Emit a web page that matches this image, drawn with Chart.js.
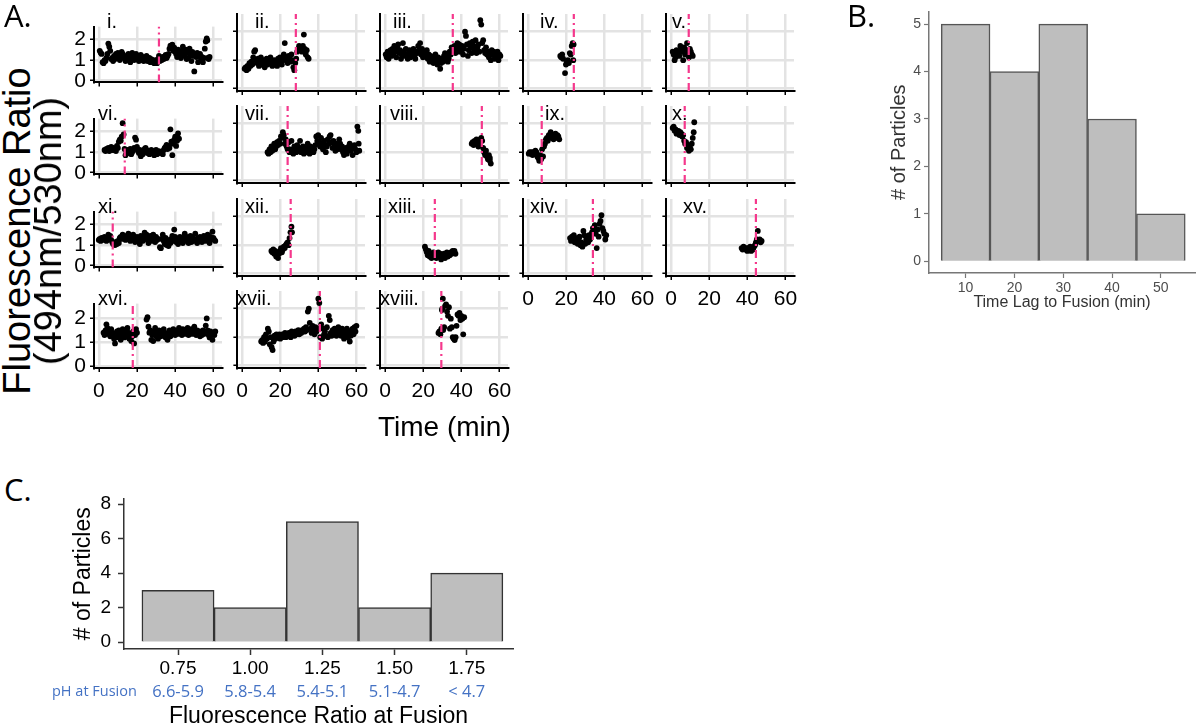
<!DOCTYPE html>
<html>
<head>
<meta charset="utf-8">
<script src="https://cdn.jsdelivr.net/npm/chart.js@4.4.0/dist/chart.umd.min.js"></script>
<style>
  body { margin: 0; background: #fff; }
  #stage { position: relative; width: 1200px; height: 728px; overflow: hidden; font-family: 'Liberation Sans', Arial, sans-serif; }
  #stage canvas { position: absolute; }
  .txt { position: absolute; white-space: nowrap; line-height: 1; color: #000; }
</style>
</head>
<body>
<div id="stage"></div>
<script>
// ---- data -------------------------------------------------------------
const panelNames = ['i.', 'ii.', 'iii.', 'iv.', 'v.', 'vi.', 'vii.', 'viii.', 'ix.', 'x.',
                    'xi.', 'xii.', 'xiii.', 'xiv.', 'xv.', 'xvi.', 'xvii.', 'xviii.'];
const fusionTimes = [31.5, 28.3, 35.6, 24.1, 9.4, 13.6, 24, 50.8, 7.3, 7.3,
                     7.3, 25.6, 26.2, 34, 44.5, 17.8, 40.8, 29.5];
const timeTicks = [0, 20, 40, 60];
const ratioTicks = [0, 1, 2];

// [time (min), fluorescence ratio]
const trace_i = [[0.5,1.45],[1,1.35],[1.5,1.3],[2,0.9],[2.5,0.85],[3,1.0],[3.5,0.95],[4,1.1],[4.5,1.3],[5,1.8],[5.5,1.65],[6,1.45],[6.5,1.05],[7,1.1],[7.5,0.95],[8,1.2],[8.5,1.05],[9,1.3],[9.5,1.1],[10,1.35],[10.5,1.25],[11,1.0],[11.5,1.15],[12,1.4],[12.5,1.3],[13,1.1],[13.5,1.2],[14,0.95],[14.5,1.15],[15,1.05],[15.5,1.3],[16,1.2],[16.5,0.9],[17,1.1],[17.5,1.35],[18,1.25],[18.5,1.0],[19,1.15],[19.5,1.3],[20,1.05],[20.5,1.2],[21,0.95],[21.5,1.1],[22,1.25],[22.5,1.0],[23,1.15],[23.5,0.95],[24,1.1],[24.5,1.05],[25,1.2],[25.5,0.95],[26,1.0],[26.5,1.1],[27,0.9],[27.5,1.05],[28,0.95],[28.5,1.0],[29,0.85],[29.5,0.9],[30,1.0],[30.5,0.85],[31,1.05],[31.5,1.2],[32,0.95],[32.5,1.1],[33,1.0],[33.5,1.15],[34,1.05],[35,1.25],[35.5,1.1],[36,1.2],[36.5,1.3],[37,1.55],[37.5,1.7],[38,1.65],[38.5,1.75],[39,1.45],[39.5,1.6],[40,1.4],[40.5,1.3],[41,1.15],[41.5,1.5],[42,1.2],[42.5,1.35],[43,1.1],[43.5,1.45],[44,1.65],[44.5,1.3],[45,1.2],[45.5,1.5],[46,1.05],[46.5,1.35],[47,1.1],[47.5,1.55],[48,1.25],[48.5,0.95],[49,1.4],[49.5,1.2],[50,0.45],[50.5,1.3],[51,1.15],[51.5,1.35],[52,0.9],[52.5,1.2],[53,1.3],[53.5,1.05],[54,1.15],[54.5,0.9],[55,1.1],[55.5,1.55],[56,1.9],[56.5,2.05],[56.8,1.95],[57,1.1],[57.5,1.05],[58,1.15]];
const trace_ii = [[1.5,0.7],[2,0.75],[2.5,0.65],[3,0.8],[3.5,0.7],[4,0.9],[4.5,0.8],[5,0.95],[5.5,0.85],[6,1.1],[6.5,1.3],[7,1.35],[7.5,1.0],[8,0.9],[8.5,1.05],[9,0.8],[9.5,0.95],[10,1.1],[10.5,0.85],[11,1.0],[11.5,0.9],[12,0.75],[12.5,0.95],[13,1.05],[13.5,0.85],[14,1.0],[14.5,0.9],[15,1.1],[15.5,0.95],[16,0.8],[16.5,0.9],[17,1.0],[17.5,0.85],[18,0.95],[18.5,0.8],[19,1.05],[19.5,0.9],[20,1.1],[20.5,0.95],[21,0.85],[21.5,1.05],[22,1.2],[22.5,1.6],[23,1.0],[23.5,1.1],[24,0.9],[24.5,1.15],[25,1.05],[25.5,0.95],[26,1.2],[26.5,1.0],[27,0.75],[27.5,0.65],[28,0.9],[28.5,1.05],[29,1.3],[29.5,1.4],[30,1.5],[30.5,1.35],[31,1.45],[31.5,1.3],[32,1.5],[32.5,1.9],[33,1.4],[33.5,1.2],[34,1.35],[34.5,1.1],[35,1.05]];
const trace_iii = [[0.5,1.2],[1,1.1],[1.5,1.3],[2,1.05],[2.5,1.25],[3,1.35],[3.5,1.15],[4,1.4],[4.5,1.2],[5,1.5],[5.5,1.3],[6,1.1],[6.5,1.45],[7,1.55],[7.5,1.25],[8,1.35],[8.5,1.05],[9,1.2],[9.5,1.6],[10,1.3],[10.5,1.15],[11,1.4],[11.5,1.2],[12,1.05],[12.5,1.25],[13,1.35],[13.5,1.1],[14,1.3],[14.5,1.2],[15,1.4],[15.5,1.15],[16,1.05],[16.5,1.3],[17,1.25],[17.5,1.5],[18,1.35],[18.5,1.6],[19,1.2],[19.5,1.4],[20,1.1],[20.5,1.3],[21,1.25],[21.5,1.15],[22,1.35],[22.5,1.05],[23,1.2],[23.5,0.95],[24,1.15],[24.5,1.0],[25,1.1],[25.5,0.9],[26,1.05],[26.5,1.2],[27,0.95],[27.5,0.85],[28,1.1],[28.5,1.0],[29,0.7],[29.5,0.9],[30,1.05],[30.5,0.95],[31,1.15],[31.5,1.25],[32,1.05],[32.5,1.2],[33,0.95],[33.5,1.05],[34,1.3],[34.5,1.2],[35,1.45],[36,1.35],[36.5,1.5],[37,1.25],[37.5,1.4],[38,1.6],[38.5,1.3],[39,1.55],[39.5,1.45],[40,1.3],[40.5,1.5],[41,1.2],[41.5,1.4],[42,2.0],[42.5,1.85],[43,1.55],[43.5,1.15],[44,1.35],[44.5,1.6],[45,1.45],[45.5,1.25],[46,1.65],[46.5,1.5],[47,1.35],[47.5,1.7],[48,1.25],[48.5,1.45],[49,1.55],[49.5,1.3],[50,2.4],[50.5,2.25],[51,1.6],[51.5,1.7],[52,1.35],[52.5,1.25],[53,1.45],[53.5,1.2],[54,1.3],[54.5,1.1],[55,1.25],[55.5,1.0],[56,1.35],[56.5,1.2],[57,1.3],[57.5,1.05],[58,1.25],[58.5,1.15],[59,1.3],[59.5,1.0],[60,1.2],[60.5,1.15]];
const trace_iv = [[17,1.15],[17.5,1.1],[18,1.2],[18.5,1.05],[19.5,0.55],[20,0.85],[20.5,0.95],[21,1.0],[21.5,0.9],[22,1.25],[22.5,1.2],[23,1.5],[23.5,1.6],[24,1.55],[23.8,1.0]];
const trace_v = [[1,1.3],[1.5,1.2],[2,1.0],[2.5,1.1],[3,1.35],[3.5,1.2],[4,1.25],[4.5,1.15],[5,1.5],[5.5,1.4],[6,1.3],[6.5,1.0],[7,1.45],[7.5,1.2],[8,1.35],[8.5,1.6],[9,1.25],[9.5,1.1],[10,1.4],[10.5,1.3],[11,1.2],[11.5,1.15]];
const trace_vi = [[3,1.1],[3.5,1.05],[4,1.15],[4.5,1.1],[5,1.2],[5.5,1.05],[6,1.15],[6.5,1.25],[7,1.1],[7.5,1.2],[8,1.1],[8.5,1.15],[9,1.05],[9.5,1.3],[10,1.2],[10.5,1.5],[11,1.6],[11.5,1.55],[12,1.75],[12.5,2.4],[13,1.85],[13.5,1.15],[14,0.85],[14.5,1.0],[15,1.1],[15.5,0.95],[16,1.05],[16.5,1.15],[17,0.9],[17.5,1.0],[18,1.1],[18.5,1.2],[19,1.7],[19.5,1.6],[20,1.25],[20.5,1.05],[21,0.95],[21.5,1.1],[22,0.8],[22.5,1.0],[23,0.9],[23.5,1.05],[24,1.15],[24.5,1.2],[25,1.1],[25.5,0.95],[26,1.05],[26.5,0.9],[27,1.0],[27.5,1.1],[28,0.95],[28.5,1.05],[29,0.85],[29.5,1.0],[30,1.1],[30.5,0.9],[31,1.0],[31.5,1.05],[32,0.95],[33,1.0],[33.5,0.9],[34,1.1],[34.5,1.2],[35,1.25],[35.5,1.35],[36,1.15],[36.5,1.3],[37,1.2],[37.5,2.1],[38,1.5],[38.5,0.85],[39,1.4],[39.5,1.6],[40,1.75],[40.5,1.3],[41,1.55],[41.5,1.9],[42,1.65]];
const trace_vii = [[13.5,1.0],[14,0.95],[14.5,1.1],[15,1.0],[15.5,1.2],[16,1.05],[16.5,1.15],[17,1.3],[17.5,1.1],[18,1.2],[18.5,1.35],[19,1.25],[19.5,1.4],[20,1.3],[20.5,1.55],[21,1.5],[21.5,1.7],[22,1.6],[22.5,1.3],[23,1.45],[23.5,1.2],[24,1.1],[24.5,1.35],[25,1.0],[25.5,1.1],[26,1.4],[26.5,1.05],[27,0.95],[27.5,1.2],[28,1.1],[28.5,1.0],[29,1.25],[29.5,1.05],[30,1.15],[30.5,1.4],[31,1.0],[31.5,1.1],[32,1.2],[32.5,0.95],[33,1.05],[33.5,1.15],[34,1.0],[34.5,1.3],[35,1.1],[35.5,0.95],[36,1.2],[36.5,1.05],[37,1.15],[37.5,1.0],[38,1.1],[38.5,1.25],[39,1.55],[39.5,1.4],[40,1.6],[40.5,1.35],[41,1.2],[41.5,1.5],[42,1.3],[42.5,1.1],[43,1.4],[43.5,1.25],[44,1.0],[44.5,1.2],[45,1.45],[45.5,1.3],[46,1.55],[46.5,1.6],[47,1.35],[47.5,1.15],[48,1.4],[48.5,1.2],[49,1.05],[49.5,1.3],[50,1.1],[50.5,1.25],[51,1.45],[51.5,1.3],[52,1.1],[52.5,1.2],[53,1.0],[53.5,0.9],[54,1.05],[54.5,1.15],[55,0.95],[55.5,1.1],[56,1.2],[56.5,1.3],[57,1.05],[57.5,1.2],[58,0.9],[58.5,1.15],[59,1.25],[59.5,1.1],[60,1.0],[60.5,1.9],[61,1.75],[61.2,1.3],[61.5,1.05]];
const trace_viii = [[45.5,1.3],[46,1.35],[46.5,1.25],[47,1.4],[47.5,1.3],[48,1.45],[48.5,1.35],[49,1.2],[49.5,1.3],[50,1.45],[50.5,1.5],[51,1.4],[51.5,1.15],[52,1.0],[52.5,0.9],[53,1.05],[53.5,0.85],[54,0.75],[54.5,0.9],[55,0.7],[55.5,0.6],[55,0.8]];
const trace_ix = [[0.5,0.95],[1,1.0],[1.5,0.95],[2,1.0],[2.5,0.9],[3,1.0],[3.5,0.95],[4,1.05],[4.5,1.0],[5,0.85],[5.5,0.8],[6,0.7],[6.5,0.9],[7,0.75],[7.5,1.1],[8,0.85],[8.5,1.2],[9,1.3],[9.5,1.45],[10,1.5],[10.5,1.4],[11,1.6],[11.5,1.55],[12,1.7],[12.5,1.5],[13,1.6],[13.5,1.45],[14,1.55],[14.5,1.65],[15,1.5],[15.5,1.6],[16,1.55],[16.5,1.45]];
const trace_x = [[1,1.85],[1.5,1.9],[2,1.75],[2.5,1.8],[3,1.65],[3.5,1.7],[4,1.75],[4.5,1.6],[5,1.7],[5.5,1.65],[6,1.55],[6.5,1.6],[7,1.4],[7.5,1.3],[8,1.35],[8.5,1.15],[9,1.25],[9.5,1.05],[10,1.2],[10.5,1.1],[11,1.3],[11.5,1.5],[12,1.7],[12.3,2.05]];
const trace_xi = [[0,1.25],[0.5,1.3],[1,1.2],[1.5,1.35],[2,1.25],[2.5,1.3],[3,1.4],[3.5,1.3],[4,1.2],[4.5,1.35],[5,1.5],[5.5,1.3],[6,1.45],[6.5,1.25],[7,1.15],[7.5,1.05],[8,1.1],[8.5,1.0],[9,1.15],[9.5,1.05],[10,1.2],[10.5,1.1],[11,1.35],[11.5,1.4],[12,1.3],[12.5,1.5],[13,1.35],[13.5,1.45],[14,1.25],[14.5,1.4],[15,1.3],[15.5,1.55],[16,1.35],[16.5,1.2],[17,1.45],[17.5,1.3],[18,1.5],[18.5,1.25],[19,1.15],[19.5,1.35],[20,1.4],[20.5,1.2],[21,1.3],[21.5,1.05],[22,1.45],[22.5,1.3],[23,1.2],[23.5,1.4],[24,1.6],[24.5,1.35],[25,1.5],[25.5,1.25],[26,1.1],[26.5,1.3],[27,1.45],[27.5,1.2],[28,1.35],[28.5,1.5],[29,1.3],[29.5,1.15],[30,1.4],[30.5,1.25],[31,1.3],[32,0.9],[32.5,0.85],[33,1.3],[33.5,1.5],[34,1.2],[34.5,1.05],[35,1.35],[35.5,1.0],[36,1.15],[36.5,0.95],[37,1.25],[37.5,1.1],[38,1.3],[38.5,1.45],[39,1.2],[39.5,1.75],[40,1.4],[40.5,1.15],[41,1.3],[41.5,1.05],[42,1.25],[42.5,1.4],[43,1.2],[43.5,1.35],[44,1.1],[44.5,1.3],[45,1.55],[45.5,1.2],[46,1.4],[46.5,1.3],[47,1.1],[47.5,1.25],[48,1.45],[48.5,1.15],[49,1.35],[49.5,1.2],[50,1.3],[50.5,1.55],[51,1.25],[51.5,1.1],[52,1.35],[52.5,1.2],[53,1.4],[53.5,1.3],[54,1.15],[54.5,1.25],[55,1.45],[55.5,1.3],[56,1.2],[56.5,1.35],[57,1.5],[57.5,1.25],[58,1.1],[58.5,1.4],[59,1.3],[59.5,1.65],[60,1.35],[60.5,1.25],[61,1.2]];
const trace_xii = [[15.5,0.8],[16,0.75],[16.5,0.85],[17,0.7],[17.5,0.8],[18,0.6],[18.5,0.75],[19,0.55],[19.5,0.7],[20,0.8],[20.5,0.9],[21,0.75],[21.5,0.85],[22,0.95],[22.5,0.9],[23,1.0],[23.5,1.05],[24,1.1],[24.5,1.0],[25,1.25],[25.5,1.45],[26,1.65],[26.3,1.45]];
const trace_xiii = [[21,0.95],[21.5,0.85],[22,0.75],[22.5,0.65],[23,0.8],[23.5,0.6],[24,0.7],[24.5,0.55],[25,0.65],[25.5,0.75],[26,0.6],[26.5,0.7],[27,0.55],[27.5,0.65],[28,0.75],[28.5,0.6],[29,0.7],[29.5,0.5],[30,0.65],[30.5,0.6],[31,0.7],[31.5,0.55],[32,0.65],[32.5,0.75],[33,0.6],[33.5,0.7],[34,0.65],[34.5,0.75],[35,0.7],[35.5,0.8],[36,0.75],[36.5,0.8],[37,0.7]];
const trace_xiv = [[22,1.25],[22.5,1.15],[23,1.3],[23.5,1.2],[24,1.35],[24.5,1.1],[25,1.25],[25.5,1.15],[26,1.05],[26.5,1.2],[27,1.3],[27.5,1.0],[28,1.1],[28.5,0.95],[29,1.5],[29.5,1.35],[30,1.05],[30.5,1.2],[31,1.25],[31.5,1.1],[32,1.35],[32.5,1.2],[33,1.3],[33.5,1.45],[34,1.6],[34.5,1.5],[35,1.7],[35.5,1.4],[36,0.9],[36.5,1.55],[37,1.3],[37.5,1.75],[38,1.85],[38.5,2.05],[39,1.6],[39.5,1.5],[40,1.4],[40.5,1.2],[41,1.35]];
const trace_xv = [[37,0.9],[37.5,0.85],[38,0.95],[38.5,0.9],[39,0.85],[39.5,0.9],[40,0.8],[40.5,0.9],[41,0.85],[41.5,0.95],[42,0.8],[42.5,0.9],[43,0.85],[43.5,0.95],[44,1.0],[44.5,1.1],[45,1.2],[45.5,1.5],[46,1.15],[46.5,1.2],[47,1.1],[47.5,1.15]];
const trace_xvi = [[2.5,1.4],[3,1.3],[3.5,1.5],[4,1.75],[4.5,1.6],[5,1.35],[5.5,1.45],[6,1.25],[6.5,1.55],[7,1.4],[7.5,1.3],[8,1.15],[8.5,0.95],[9,1.2],[9.5,1.45],[10,1.3],[10.5,1.5],[11,1.25],[11.5,1.1],[12,1.4],[12.5,1.55],[13,1.35],[13.5,1.2],[14,1.45],[14.5,1.3],[15,1.6],[15.5,1.4],[16,1.15],[16.5,1.35],[17,1.05],[17.5,1.25],[18,1.45],[18.5,0.95],[19,1.3],[19.5,1.55],[20,1.4],[25,1.95],[25.5,2.05],[26,1.65],[26.5,1.4],[27,1.5],[27.5,1.1],[28,1.3],[28.5,1.05],[29,1.45],[29.5,1.6],[30,1.25],[30.5,1.4],[31,1.15],[31.5,1.5],[32,1.35],[32.5,1.25],[33,1.45],[33.5,1.3],[34,1.55],[34.5,1.4],[35,1.2],[35.5,1.35],[36,1.1],[36.5,1.3],[37,1.5],[37.5,1.25],[38,1.4],[38.5,1.35],[39,1.55],[39.5,1.45],[40,1.3],[40.5,1.4],[41,1.5],[41.5,1.35],[42,1.6],[42.5,1.4],[43,1.45],[43.5,1.3],[44,1.55],[44.5,1.4],[45,1.5],[45.5,1.35],[46,1.45],[46.5,1.6],[47,1.3],[47.5,1.5],[48,1.4],[48.5,1.55],[49,1.35],[49.5,1.45],[50,1.65],[50.5,1.4],[51,1.3],[51.5,1.5],[52,1.35],[52.5,1.45],[53,1.25],[53.5,1.4],[54,1.3],[54.5,1.5],[55,1.35],[55.5,1.45],[56,1.7],[56.5,2.0],[57,1.5],[57.5,1.3],[58,1.2],[58.5,1.45],[59,1.35],[59.5,1.1],[60,1.4],[60.5,1.3],[61,1.45]];
const trace_xvii = [[10,0.85],[10.5,0.9],[11,0.8],[11.5,1.0],[12,0.85],[12.5,1.1],[13,0.95],[13.5,1.3],[14,1.2],[14.5,0.75],[15,1.0],[15.5,0.65],[16,0.55],[16.5,0.85],[17,1.05],[17.5,0.95],[18,1.1],[18.5,1.0],[19,1.05],[19.5,1.1],[20,0.95],[20.5,1.05],[21,1.1],[21.5,1.0],[22,1.05],[22.5,1.15],[23,1.0],[23.5,1.1],[24,1.05],[24.5,1.15],[25,1.1],[25.5,1.0],[26,1.2],[26.5,1.1],[27,1.15],[27.5,1.05],[28,1.2],[28.5,1.1],[29,1.15],[29.5,1.25],[30,1.1],[30.5,1.2],[31,1.15],[31.5,1.25],[32,1.2],[32.5,1.3],[33,1.2],[33.5,1.35],[34,1.25],[34.5,1.9],[35,2.0],[35.5,1.5],[36,1.3],[36.5,1.15],[37,1.4],[37.5,1.25],[38,1.1],[38.5,1.35],[39,1.2],[39.5,1.3],[40,2.35],[40.5,2.2],[41,1.0],[41.5,1.45],[42,0.95],[42.5,1.3],[43,1.1],[43.5,1.2],[44,1.05],[44.5,1.35],[45,1.0],[45.5,1.75],[46,1.6],[46.5,1.15],[47,1.05],[47.5,1.25],[48,1.1],[48.5,1.3],[49,1.15],[49.5,1.05],[50,1.2],[50.5,1.35],[51,1.1],[51.5,1.25],[52,1.05],[52.5,1.3],[53,1.15],[53.5,0.95],[54,1.2],[54.5,1.1],[55,1.3],[55.5,1.0],[56,1.15],[56.5,0.85],[57,1.05],[57.5,1.25],[58,1.3],[58.5,1.1],[59,1.35],[59.5,1.2],[60,1.4]];
const trace_xviii = [[28,1.15],[28.5,1.2],[29,1.1],[29.5,1.3],[29.8,1.95],[30,2.0],[30.3,2.35],[30.5,1.25],[31,1.35],[31.5,2.1],[32,2.15],[32.5,1.9],[33,1.75],[33.5,2.05],[34,1.3],[34.5,1.65],[35,1.35],[35.5,1.0],[36,0.95],[36.5,0.9],[37,1.0],[37.5,1.4],[38,1.8],[38.5,1.75],[39,1.85],[39.5,1.6],[40,1.75],[40.5,1.65],[41,1.1],[41.5,1.7]];
const traces = [trace_i, trace_ii, trace_iii, trace_iv, trace_v, trace_vi, trace_vii, trace_viii, trace_ix, trace_x,
                trace_xi, trace_xii, trace_xiii, trace_xiv, trace_xv, trace_xvi, trace_xvii, trace_xviii];

// histogram B
const lagBins = [10, 20, 30, 40, 50];
const lagCounts = [5, 4, 5, 3, 1];
// histogram C
const ratioBins = [0.75, 1.00, 1.25, 1.50, 1.75];
const ratioCounts = [3, 2, 7, 2, 4];
const phLabels = ['6.6-5.9', '5.8-5.4', '5.4-5.1', '5.1-4.7', '< 4.7'];

// ---- layout of the small multiples -------------------------------------
const COL_X0 = [99, 242, 385, 528, 671];   // pixel where t = 0
const ROW_Y0 = [89, 181, 274, 366];        // pixel where ratio = 0
const PX_MIN = 1.91, PX_UNIT = 28.5;
const X_MIN = -2.5, X_MAX = 64.5, Y_MIN = -0.08, Y_MAX = 2.62;
const labelDx = [13, 18, 13, 17, 6, 4, 8, 10, 22, 6, 4, 8, 8, 7, 17, 4, 0, 0];

const PINK = '#f5388c';
const GRID = '#e3e3e3';

Chart.defaults.font.family = "'Liberation Sans', Arial, sans-serif";
Chart.defaults.color = '#000';
Chart.defaults.animation = false;

const stage = document.getElementById('stage');

function addText(text, x, y, css) {
  const d = document.createElement('div');
  d.className = 'txt';
  d.textContent = text;
  d.style.left = x + 'px';
  d.style.top = y + 'px';
  Object.assign(d.style, css || {});
  stage.appendChild(d);
  return d;
}

function addCanvas(left, top, w, h) {
  const c = document.createElement('canvas');
  c.width = w; c.height = h;
  c.style.left = left + 'px'; c.style.top = top + 'px';
  c.style.width = w + 'px'; c.style.height = h + 'px';
  stage.appendChild(c);
  return c;
}

function addPanel(k) {
  const col = k % 5, row = Math.floor(k / 5);
  const plotL = Math.round(COL_X0[col] + X_MIN * PX_MIN);
  const plotT = Math.round(ROW_Y0[row] - Y_MAX * PX_UNIT);
  const plotW = Math.round((X_MAX - X_MIN) * PX_MIN);
  const plotH = Math.round((Y_MAX - Y_MIN) * PX_UNIT);
  const showY = col === 0;
  const showX = row === 3 || (row === 2 && col >= 3);
  const padL = showY ? 40 : 8, padB = showX ? 40 : 8, padT = 4, padR = 14;

  const canvas = addCanvas(plotL - padL, plotT - padT, padL + plotW + padR, padT + plotH + padB);
  const ft = fusionTimes[k];

  new Chart(canvas, {
    type: 'scatter',
    data: {
      datasets: [{
        type: 'line',
        data: [{ x: ft, y: Y_MIN }, { x: ft, y: Y_MAX }],
        borderColor: PINK,
        borderWidth: 2.2,
        borderDash: [8, 4, 2, 4],
        pointRadius: 0,
        order: 0
      }, {
        data: traces[k].map(([x, y]) => ({ x, y })),
        backgroundColor: '#000',
        borderWidth: 0,
        pointRadius: 2.9,
        order: 1
      }]
    },
    options: {
      responsive: false,
      layout: { padding: { top: padT, right: padR, left: 0, bottom: 0 } },
      plugins: { legend: { display: false }, tooltip: { enabled: false } },
      scales: {
        x: {
          type: 'linear', min: X_MIN, max: X_MAX,
          afterBuildTicks: s => { s.ticks = timeTicks.map(v => ({ value: v })); },
          afterFit: s => { s.height = padB; },
          grid: { color: GRID, lineWidth: 2.5, tickColor: '#000', tickWidth: 1.5, tickLength: 4 },
          border: { color: '#000', width: 2 },
          ticks: { display: showX, autoSkip: false, maxRotation: 0, padding: 7, font: { size: 21 }, color: '#000' }
        },
        y: {
          type: 'linear', min: Y_MIN, max: Y_MAX,
          afterBuildTicks: s => { s.ticks = ratioTicks.map(v => ({ value: v })); },
          afterFit: s => { s.width = padL; },
          grid: { color: GRID, lineWidth: 2.5, tickColor: '#000', tickWidth: 1.5, tickLength: 4 },
          border: { color: '#000', width: 2 },
          ticks: { display: showY, padding: 4, font: { size: 21 }, color: '#000' }
        }
      }
    }
  });

  addText(panelNames[k], plotL + labelDx[k], plotT - 3, { fontSize: '20px' });
}

traces.forEach((_, k) => addPanel(k));

// titles of panel A
addText('A.', 4, 0, { fontSize: '31px', fontFamily: "'Open Sans', sans-serif" });
addText('Time (min)', 378, 413, { fontSize: '28px' });
addText('Fluorescence Ratio', 17, 231, { fontSize: '38px', transform: 'translate(-50%, -50%) rotate(-90deg)' });
addText('(494nm/530nm)', 48, 231, { fontSize: '38px', transform: 'translate(-50%, -50%) rotate(-90deg)' });

// ---- histogram B ------------------------------------------------------------
addText('B.', 847, 0, { fontSize: '31px', fontFamily: "'Open Sans', sans-serif" });
{
  const left = 876, top = 0, w = 324, h = 330;
  const canvas = addCanvas(left, top, w, h);
  new Chart(canvas, {
    type: 'bar',
    data: {
      datasets: [{
        data: lagBins.map((b, i) => ({ x: b, y: lagCounts[i] })),
        backgroundColor: '#bebebe',
        borderColor: '#555',
        borderWidth: 1.5,
        barPercentage: 1,
        categoryPercentage: 1
      }]
    },
    options: {
      responsive: false,
      layout: { padding: { top: 5, right: 5, left: 0, bottom: 0 } },
      plugins: { legend: { display: false }, tooltip: { enabled: false } },
      scales: {
        x: {
          type: 'linear', min: 2.5, max: 57, offset: false,
          afterBuildTicks: s => { s.ticks = lagBins.map(v => ({ value: v })); },
          afterFit: s => { s.height = 57; },
          grid: { display: true, offset: false, drawOnChartArea: false, tickColor: '#777', tickLength: 5, tickWidth: 1.2 },
          border: { color: '#777', width: 1.5 },
          ticks: { padding: 2, font: { size: 14 }, color: '#4d4d4d' },
          title: { display: true, text: 'Time Lag to Fusion (min)', color: '#333', font: { size: 16, lineHeight: 1 }, padding: { top: 0, bottom: 19 } }
        },
        y: {
          type: 'linear', min: -0.25, max: 5.27,
          afterBuildTicks: s => { s.ticks = [0, 1, 2, 3, 4, 5].map(v => ({ value: v })); },
          afterFit: s => { s.width = 53; },
          grid: { display: true, drawOnChartArea: false, tickColor: '#777', tickLength: 5, tickWidth: 1.2 },
          border: { color: '#777', width: 1.5 },
          ticks: { padding: 3, font: { size: 14 }, color: '#4d4d4d' },
          title: { display: true, text: '# of Particles', color: '#333', font: { size: 20, lineHeight: 1 }, padding: { top: 13, bottom: 0 } }
        }
      }
    }
  });
}

// ---- histogram C ------------------------------------------------------------
addText('C.', 4, 474, { fontSize: '31px', fontFamily: "'Open Sans', sans-serif" });
const phRow = {
  id: 'phRow',
  afterDraw(chart) {
    const ctx = chart.ctx, xs = chart.scales.x;
    const y = chart.chartArea.bottom + 43;
    ctx.save();
    ctx.fillStyle = '#4472c4';
    ctx.font = "16.5px 'Open Sans', sans-serif";
    ctx.textBaseline = 'middle';
    ctx.textAlign = 'center';
    ratioBins.forEach((b, i) => ctx.fillText(phLabels[i], xs.getPixelForValue(b), y));
    ctx.textAlign = 'left';
    ctx.font = "14.5px 'Open Sans', sans-serif";
    ctx.fillText('pH at Fusion', 12, y);
    ctx.restore();
  }
};
{
  const left = 40, top = 480, w = 480, h = 248;
  const canvas = addCanvas(left, top, w, h);
  new Chart(canvas, {
    type: 'bar',
    data: {
      datasets: [{
        data: ratioBins.map((b, i) => ({ x: b, y: ratioCounts[i] })),
        backgroundColor: '#bebebe',
        borderColor: '#333',
        borderWidth: 1.5,
        barPercentage: 1,
        categoryPercentage: 1
      }]
    },
    plugins: [phRow],
    options: {
      responsive: false,
      layout: { padding: { top: 15, right: 7, left: 0, bottom: 0 } },
      plugins: { legend: { display: false }, tooltip: { enabled: false } },
      scales: {
        x: {
          type: 'linear', min: 0.563, max: 1.91, offset: false,
          afterBuildTicks: s => { s.ticks = ratioBins.map(v => ({ value: v })); },
          afterFit: s => { s.height = 79; },
          grid: { display: true, offset: false, drawOnChartArea: false, tickColor: '#333', tickLength: 6, tickWidth: 1.5 },
          border: { color: '#333', width: 1.5 },
          ticks: { padding: 2, font: { size: 19 }, color: '#000', callback: v => v.toFixed(2) },
          title: { display: true, text: 'Fluorescence Ratio at Fusion', color: '#000', font: { size: 23, lineHeight: 1 }, padding: { top: 0, bottom: 0 } }
        },
        y: {
          type: 'linear', min: -0.4, max: 8.34,
          afterBuildTicks: s => { s.ticks = [0, 2, 4, 6, 8].map(v => ({ value: v })); },
          afterFit: s => { s.width = 84; },
          grid: { display: true, drawOnChartArea: false, tickColor: '#333', tickLength: 6, tickWidth: 1.5 },
          border: { color: '#333', width: 1.5 },
          ticks: { padding: 7, font: { size: 19 }, color: '#000' },
          title: { display: true, text: '# of Particles', color: '#000', font: { size: 23, lineHeight: 1 }, padding: { top: 32, bottom: 0 } }
        }
      }
    }
  });
}
</script>
</body>
</html>
